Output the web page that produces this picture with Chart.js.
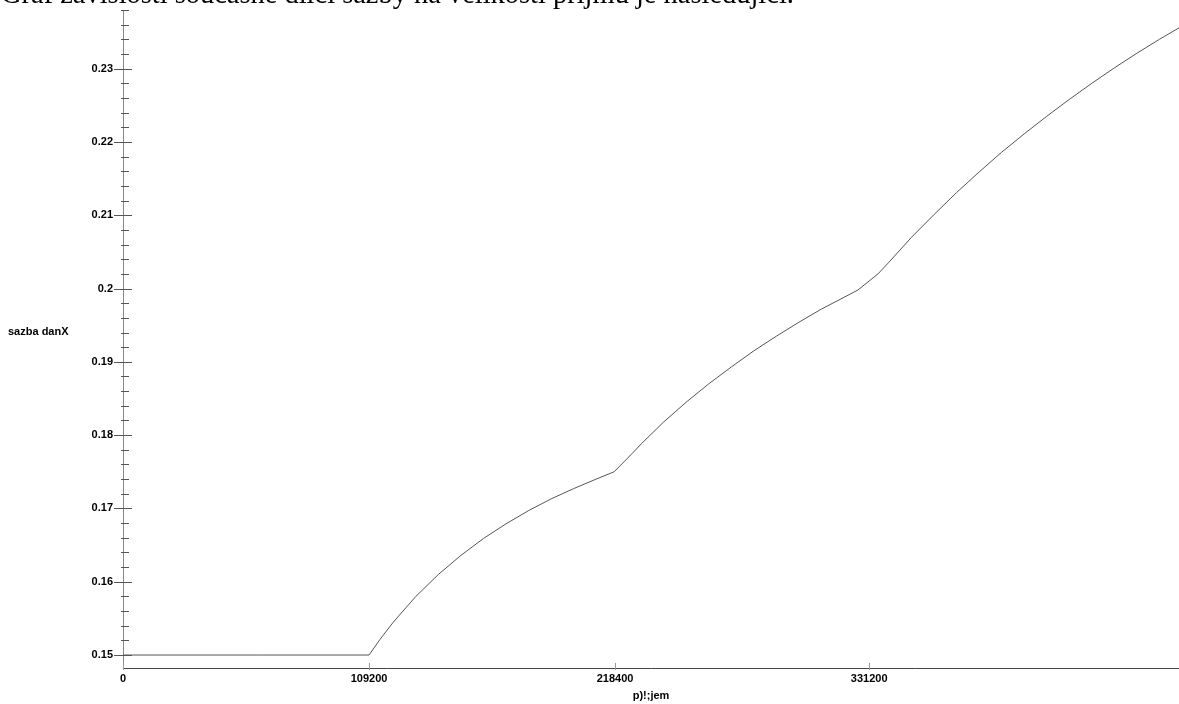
<!DOCTYPE html>
<html>
<head>
<meta charset="utf-8">
<script src="https://cdn.jsdelivr.net/npm/chart.js@4.4.1/dist/chart.umd.min.js"></script>
<style>
  body { margin: 0; background: #fff; overflow: hidden; }
  #wrap { position: relative; width: 1179px; height: 704px; overflow: hidden; }
  #chart { position: absolute; left: 0; top: 0; }
  #intro {
    position: absolute; left: 1px; top: -17px;
    font-family: "Liberation Serif", "DejaVu Serif", serif;
    font-size: 21px; line-height: 21px; white-space: nowrap; color: #000;
  }
</style>
</head>
<body>
<div id="wrap">
  <canvas id="chart" width="1179" height="704"></canvas>
  <div id="intro"><span id="introText">Graf závislosti současné dílčí sazby na velikosti příjmu je následující.</span></div>
</div>
<script>
// income (x) and tax rate (y)
const incomes = [0, 60000, 109200, 114000, 120000, 130000, 140000, 150000, 160000, 170000,
  180000, 190000, 200000, 210000, 218000, 226000, 230000, 240000, 250000, 260000,
  270000, 280000, 290000, 300000, 310000, 320000, 326200, 335100, 340000,
  350000, 360000, 370000, 380000, 390000, 400000, 410000, 420000, 430000, 440000,
  450000, 460000, 470000];
const rates = [0.15, 0.15, 0.15, 0.1521, 0.1545, 0.158, 0.161, 0.1636, 0.1659, 0.1679,
  0.1697, 0.1713, 0.1727, 0.174, 0.175, 0.1775, 0.1788, 0.1818, 0.1845, 0.187,
  0.1893, 0.1915, 0.1935, 0.1954, 0.1972, 0.1988, 0.1998, 0.2020, 0.2036,
  0.207, 0.2101, 0.2131, 0.2159, 0.2186, 0.2211, 0.2235, 0.2258, 0.228, 0.2301,
  0.2321, 0.234, 0.2358];

const xTicks = [0, 109200, 218400, 331200];
const yFirstTick = 0.15;
const yLastTick = 0.238;
const yTickStep = 0.002;

const xMin = 0, xMax = 468700;
const yMin = 0.14823, yMax = 0.238;

const labelFont = { family: "'Liberation Sans', sans-serif", size: 11, weight: "bold" };

function isMajor(v) {
  return Math.abs(v * 100 - Math.round(v * 100)) < 1e-6;
}

const axisTicks = {
  id: "axisTicks",
  afterDraw(chart) {
    const ctx = chart.ctx;
    const xs = chart.scales.x, ys = chart.scales.y;
    const left = chart.chartArea.left, bottom = chart.chartArea.bottom;
    ctx.save();
    ctx.lineWidth = 1;
    ctx.strokeStyle = "#555";
    ys.ticks.forEach(t => {
      const y = Math.round(ys.getPixelForValue(t.value)) + 0.5;
      ctx.beginPath();
      if (isMajor(t.value)) { ctx.moveTo(left - 9, y); ctx.lineTo(left + 9, y); }
      else { ctx.moveTo(left - 2, y); ctx.lineTo(left + 6, y); }
      ctx.stroke();
    });
    ctx.strokeStyle = "#999";
    xs.ticks.forEach(t => {
      const x = Math.round(xs.getPixelForValue(t.value)) + 0.5;
      ctx.beginPath();
      ctx.moveTo(x, bottom - 5);
      ctx.lineTo(x, bottom + 2);
      ctx.stroke();
    });
    // horizontal y axis title
    ctx.fillStyle = "#000";
    ctx.font = "bold 11px 'Liberation Sans', sans-serif";
    ctx.textBaseline = "middle";
    ctx.textAlign = "left";
    ctx.fillText("sazba danX", 8, 332);
    ctx.restore();
  }
};

new Chart(document.getElementById("chart"), {
  type: "line",
  data: {
    datasets: [{
      data: incomes.map((x, i) => ({ x: x, y: rates[i] })),
      borderColor: "#555",
      borderWidth: 1,
      pointRadius: 0,
      tension: 0,
      fill: false
    }]
  },
  options: {
    responsive: false,
    animation: false,
    devicePixelRatio: 1,
    layout: { padding: { top: 10, right: 0, left: 0, bottom: 0 } },
    plugins: { legend: { display: false }, tooltip: { enabled: false } },
    scales: {
      x: {
        type: "linear",
        min: xMin, max: xMax,
        afterFit: s => { s.height = 36; },
        afterBuildTicks: s => { s.ticks = xTicks.map(v => ({ value: v })); },
        grid: { display: true, drawOnChartArea: false, drawTicks: false, color: "transparent" },
        border: { display: true, color: "#444", width: 1 },
        ticks: {
          padding: 4, maxRotation: 0, autoSkip: false, color: "#000",
          font: labelFont,
          callback: v => String(v)
        },
        title: {
          display: true, text: "p)!;jem", color: "#000",
          font: labelFont,
          padding: { top: 0, bottom: 1 }
        }
      },
      y: {
        type: "linear",
        min: yMin, max: yMax,
        afterFit: s => { s.width = 123; },
        afterBuildTicks: s => {
          const t = [];
          for (let v = yFirstTick; v <= yLastTick + 1e-9; v += yTickStep) {
            t.push({ value: Math.round(v * 1000) / 1000 });
          }
          s.ticks = t;
        },
        grid: { display: true, drawOnChartArea: false, drawTicks: true, tickLength: 7, color: "transparent" },
        border: { display: true, color: "#888", width: 1 },
        ticks: {
          padding: 3, autoSkip: false, color: "#000",
          font: labelFont,
          callback: v => isMajor(v) ? String(Math.round(v * 100) / 100) : ""
        }
      }
    }
  },
  plugins: [axisTicks]
});

// stretch the intro sentence to the width it has in the picture
const introSpan = document.getElementById("introText");
const w = introSpan.getBoundingClientRect().width;
const intro = document.getElementById("intro");
intro.style.fontSize = (21 * 793 / w) + "px";
</script>
</body>
</html>
